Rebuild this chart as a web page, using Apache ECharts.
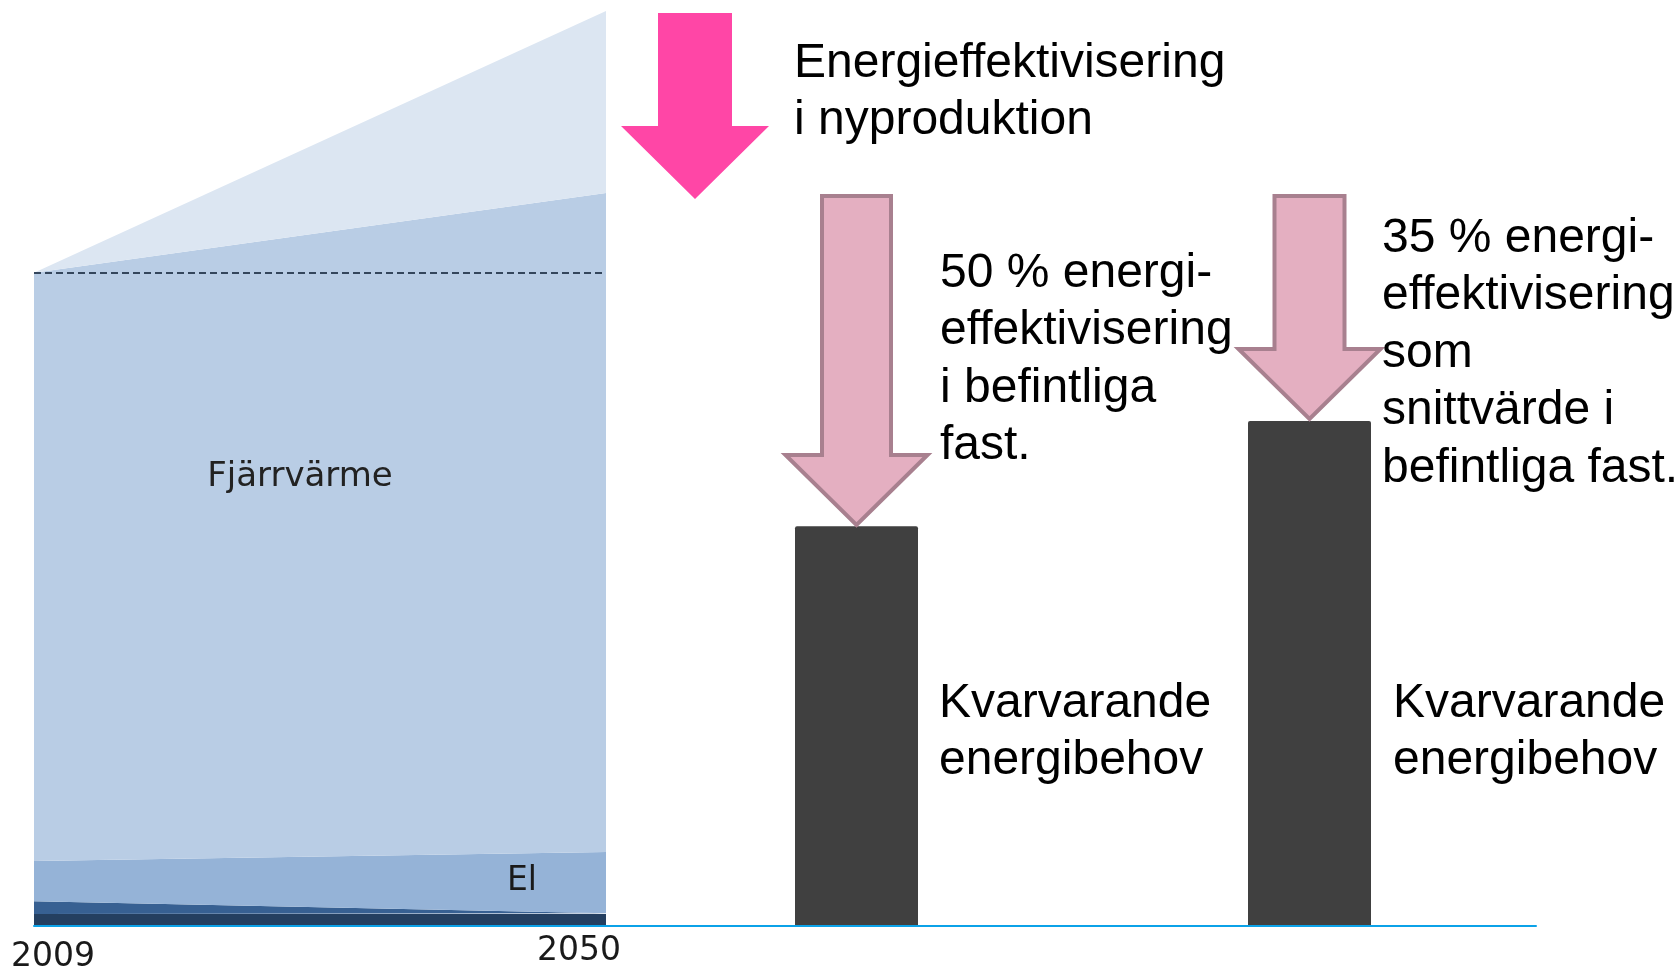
<!DOCTYPE html>
<html>
<head>
<meta charset="utf-8">
<script src="https://cdn.jsdelivr.net/npm/echarts@6/dist/echarts.min.js"></script>
<style>
html, body { margin: 0; padding: 0; background: #fff; }
#chart { width: 1680px; height: 970px; }
</style>
</head>
<body>
<div id="chart"></div>
<script>
// år (vänster diagram)
var years = [2009, 2050];
var yearLabels = ['2009', '2050'];
// staplade ytor, [2009, 2050]
var ovrigtMork = [1.3, 1.3];
var ovrigtMellan = [1.4, 0.1];
var el = [4.4, 6.7];
var fjarrvarme = [64.3, 72.0];
var nyproduktion = [0, 19.9];
// kvarvarande energibehov (höger staplar)
var scenarios = ['50 %', '35 %'];
var remaining = [43.7, 55.2];

// nivån 2009 -> streckad linje
var base2009 = ovrigtMork[0] + ovrigtMellan[0] + el[0] + fjarrvarme[0] + nyproduktion[0];

// tidsaxel, så att staplingen sker på y
var times = years.map(function (y) { return new Date(y, 0, 1).getTime(); });
var span = times[1] - times[0];

function pts(arr) {
  return times.map(function (t, i) { return [t, arr[i]]; });
}

function area(name, arr, color) {
  return {
    name: name,
    type: 'line',
    stack: 'energi',
    xAxisIndex: 0,
    yAxisIndex: 0,
    symbol: 'none',
    silent: true,
    lineStyle: { width: 0 },
    areaStyle: { color: color, opacity: 1 },
    data: pts(arr)
  };
}

var chart = echarts.init(document.getElementById('chart'));

var labelFont = '"DejaVu Sans", sans-serif';
var textFont = '"Liberation Sans", Arial, sans-serif';

var top5 = area('Nyproduktion', nyproduktion, '#DCE6F2');
top5.markLine = {
  silent: true,
  symbol: 'none',
  label: { show: false },
  lineStyle: { type: [7, 4], color: '#34465C', width: 1.8 },
  data: [[{ coord: [times[0], base2009] }, { coord: [times[1], base2009] }]]
};

// pilar
function arrow(cx, top, headY, tip, shaftHalf, headHalf) {
  return [
    [cx - shaftHalf, top], [cx + shaftHalf, top], [cx + shaftHalf, headY],
    [cx + headHalf, headY], [cx, tip], [cx - headHalf, headY], [cx - shaftHalf, headY]
  ];
}

function txt(x, y, lines) {
  return {
    type: 'text', x: x, y: y, z: 10,
    style: {
      text: lines.join('\n'), fill: '#000', fontSize: 48, fontFamily: textFont,
      lineHeight: 57.5, align: 'left', verticalAlign: 'top'
    }
  };
}

chart.setOption({
  animation: false,
  grid: [
    { left: 34, right: 1050, top: 11, bottom: 44 },
    { left: 630, right: 144, top: 11, bottom: 44 }
  ],
  xAxis: [
    {
      gridIndex: 0,
      type: 'time',
      z: 5,
      min: times[0],
      max: times[1] + span * 24 / 572,
      splitLine: { show: false },
      axisTick: { show: false },
      axisLabel: { show: false },
      axisLine: { show: true, lineStyle: { color: '#0BA2E8', width: 2 } }
    },
    {
      gridIndex: 1,
      type: 'category',
      z: 5,
      data: scenarios,
      axisTick: { show: false },
      axisLabel: { show: false },
      axisLine: { show: true, lineStyle: { color: '#0BA2E8', width: 2 } }
    }
  ],
  yAxis: [
    { gridIndex: 0, type: 'value', min: 0, max: 100, show: false },
    { gridIndex: 1, type: 'value', min: 0, max: 100, show: false }
  ],
  series: [
    area('Övrigt', ovrigtMork, '#243F60'),
    area('Övrigt 2', ovrigtMellan, '#376092'),
    area('El', el, '#95B3D7'),
    area('Fjärrvärme', fjarrvarme, '#B9CDE5'),
    top5,
    {
      name: 'Kvarvarande energibehov',
      type: 'bar',
      xAxisIndex: 1,
      yAxisIndex: 1,
      barWidth: 123,
      silent: true,
      itemStyle: { color: '#404040', borderRadius: [2, 2, 0, 0] },
      data: remaining
    }
  ]
});

// årtal under axeln, placerade från axelns skala
var x0 = chart.convertToPixel({ xAxisIndex: 0 }, times[0]);
var x1 = chart.convertToPixel({ xAxisIndex: 0 }, times[1]);
var yBase = chart.convertToPixel({ yAxisIndex: 0 }, 0);

function yearText(x, y, s) {
  return {
    type: 'text', x: x, y: y, z: 10,
    style: { text: s, fill: '#1a1a1a', fontSize: 33, fontFamily: labelFont,
      align: 'center', verticalAlign: 'middle' }
  };
}

chart.setOption({
  graphic: [
    { type: 'polygon', z: 5, shape: { points: arrow(695, 13, 126, 199, 37, 74) },
      style: { fill: '#FF46A6' } },
    { type: 'polygon', z: 5, shape: { points: arrow(856.5, 196, 455, 525, 34.5, 71) },
      style: { fill: '#E4AFC1', stroke: '#A8808F', lineWidth: 4 } },
    { type: 'polygon', z: 5, shape: { points: arrow(1309.5, 196, 349, 419, 35, 71) },
      style: { fill: '#E4AFC1', stroke: '#A8808F', lineWidth: 4 } },
    yearText(x0 + 19, yBase + 31, yearLabels[0]),
    yearText(x1 - 27, yBase + 25, yearLabels[1]),
    { type: 'text', x: 300, y: 477, z: 10,
      style: { text: 'Fjärrvärme', fill: '#222', fontSize: 34, fontFamily: labelFont,
        align: 'center', verticalAlign: 'middle' } },
    { type: 'text', x: 522, y: 881, z: 10,
      style: { text: 'El', fill: '#1a1a1a', fontSize: 33, fontFamily: labelFont,
        align: 'center', verticalAlign: 'middle' } },
    txt(794, 35, ['Energieffektivisering', 'i nyproduktion']),
    txt(940, 245, ['50 % energi-', 'effektivisering', 'i befintliga', 'fast.']),
    txt(1382, 210, ['35 % energi-', 'effektivisering', 'som', 'snittvärde i', 'befintliga fast.']),
    txt(939, 675, ['Kvarvarande', 'energibehov']),
    txt(1393, 675, ['Kvarvarande', 'energibehov'])
  ]
});
</script>
</body>
</html>
